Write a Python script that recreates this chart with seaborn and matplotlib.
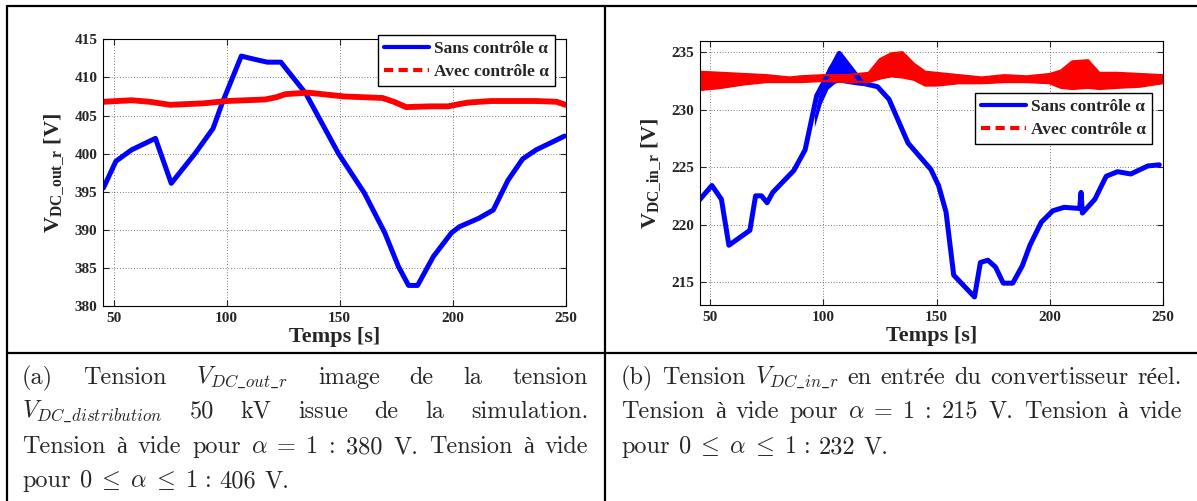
import numpy as np
import pandas as pd
import matplotlib
matplotlib.use("Agg")
import matplotlib.pyplot as plt
import matplotlib.transforms as mtransforms
import seaborn as sns
from matplotlib.lines import Line2D

# (a) V_DC_out_r, simulation
t_a_sans = [45.5, 51, 58, 68.5, 75.5, 86, 94, 98, 106.5, 112, 118, 124, 135, 149.5,
            161, 170, 176, 180.5, 184.5, 191.5, 199.5, 203, 211.5, 218, 224.5, 231,
            237, 244, 249.5]
v_a_sans = [395.5, 399, 400.5, 402, 396.1, 400, 403.3, 406.6, 412.8, 412.4, 412, 412,
            407.9, 400, 394.8, 389.6, 385.2, 382.7, 382.7, 386.5, 389.6, 390.4, 391.5,
            392.6, 396.5, 399.3, 400.5, 401.5, 402.3]
t_a_avec = [45.5, 58, 66, 75, 90, 100, 117, 122, 126, 136, 152, 169, 174, 179.5, 190,
            198, 203, 207, 217, 237, 246, 250]
v_a_avec = [406.8, 407, 406.8, 406.4, 406.6, 406.9, 407.1, 407.4, 407.8, 408, 407.5,
            407.3, 406.8, 406.1, 406.2, 406.2, 406.5, 406.7, 406.9, 406.9, 406.8, 406.4]

# (b) V_DC_in_r, convertisseur reel
t_b_sans = [45, 50.7, 54.9, 58.2, 67.5, 70, 72.6, 75.1, 77.6, 86.9, 91.9, 97, 107,
            117.2, 123.9, 129, 137.4, 147.5, 150.9, 154.2, 157.6, 166.8, 169.4, 172.7,
            176.1, 179.5, 183.7, 187.9, 191.3, 196.3, 201.4, 206.4, 213.3, 213.9, 214.5,
            220, 225, 230, 235.9, 243.4, 248.5]
v_b_sans = [222.1, 223.4, 222.2, 218.2, 219.5, 222.5, 222.5, 221.9, 222.8, 224.7,
            226.5, 231.2, 234.9, 232.3, 232, 230.9, 227.1, 224.8, 223.4, 221.1, 215.6,
            213.7, 216.7, 216.9, 216.3, 214.9, 214.9, 216.4, 218.2, 220.2, 221.2, 221.5,
            221.4, 222.8, 221.0, 222.2, 224.2, 224.6, 224.4, 225.1, 225.2]
# oscillation envelope of the blue curve around its peak
t_b_sans_env = [96, 99, 102, 105, 107, 110, 113, 117]
lo_b_sans_env = [228.5, 230.5, 231.8, 232.3, 232.4, 232.3, 232.2, 232.1]
hi_b_sans_env = [229.5, 232.2, 233.7, 234.5, 234.9, 234.0, 233.2, 232.4]
# red curve is a noisy band: upper and lower edges
t_b_avec = [45, 55, 65, 75, 85, 90, 100, 110, 120, 125, 130, 135, 140, 145, 150, 160,
            170, 180, 190, 200, 205, 210, 217, 222, 230, 240, 250]
hi_b_avec = [233.3, 233.2, 233.1, 233.0, 232.8, 232.9, 233.0, 233.0, 233.2, 234.4,
             234.9, 235.0, 234.0, 233.3, 233.2, 233.0, 232.8, 233.0, 232.9, 233.1,
             233.4, 234.2, 234.3, 233.2, 233.2, 233.1, 233.0]
lo_b_avec = [231.7, 231.9, 232.2, 232.4, 232.4, 232.4, 232.5, 232.4, 232.4, 232.7,
             232.9, 232.8, 232.6, 232.1, 232.1, 232.3, 232.3, 232.4, 232.4, 232.3,
             231.9, 231.8, 231.9, 231.8, 231.9, 232.0, 232.3]

lab_sans = "Sans contrôle α"
lab_avec = "Avec contrôle α"

# captions (one list of words per printed line)
cap_a = [
    ["(a)", "Tension", r"$V_{DC\_out\_r}$", "image", "de", "la", "tension"],
    [r"$V_{DC\_distribution}$", "50", "kV", "issue", "de", "la", "simulation."],
    ["Tension", "à", "vide", "pour", r"$\alpha\;=\;1$", ":", "380", "V.", "Tension", "à", "vide"],
    ["pour", r"$0\;\leq\;\alpha\;\leq\;1$", ":", "406", "V."],
]
cap_b = [
    ["(b)", "Tension", r"$V_{DC\_in\_r}$", "en", "entrée", "du", "convertisseur", "réel."],
    ["Tension", "à", "vide", "pour", r"$\alpha\;=\;1$", ":", "215", "V.", "Tension", "à", "vide"],
    ["pour", r"$0\;\leq\;\alpha\;\leq\;1$", ":", "232", "V."],
]

sns.set_style("ticks")
plt.rcParams["font.family"] = ["Liberation Serif", "DejaVu Serif"]
plt.rcParams["font.weight"] = "bold"
plt.rcParams["axes.labelweight"] = "bold"
plt.rcParams["mathtext.fontset"] = "custom"
plt.rcParams["mathtext.rm"] = "Liberation Serif:bold"
plt.rcParams["mathtext.bf"] = "Liberation Serif:bold"
plt.rcParams["mathtext.it"] = "Liberation Serif:italic:bold"

W, H = 1197, 501
fig = plt.figure(figsize=(W / 100, H / 100), dpi=100)
fig.patch.set_facecolor("white")

ax_a = fig.add_axes([103 / W, 1 - 306 / H, 462.6 / W, 266.7 / H])
ax_b = fig.add_axes([699.7 / W, 1 - 305 / H, 463 / W, 264.3 / H])

BLUE = "#0000ff"
RED = "#ff0000"

# (a)
sns.lineplot(x=t_a_sans, y=v_a_sans, ax=ax_a, color=BLUE, lw=3.6, label=lab_sans)
sns.lineplot(x=t_a_avec, y=v_a_avec, ax=ax_a, color=RED, lw=4.2, label=lab_avec)
ax_a.set_xlim(45.3, 250)
ax_a.set_ylim(380, 415)
ax_a.set_yticks(np.arange(380, 416, 5))
ax_a.set_ylabel(r"V$_{\mathbf{DC\_out\_r}}$ [V]", fontsize=16, labelpad=6)

# (b)
ax_b.fill_between(t_b_sans_env, lo_b_sans_env, hi_b_sans_env, color=BLUE, lw=0)
sns.lineplot(x=t_b_sans, y=v_b_sans, ax=ax_b, color=BLUE, lw=3.6, label=lab_sans)
ax_b.fill_between(t_b_avec, lo_b_avec, hi_b_avec, color=RED, lw=0)
sns.lineplot(x=t_b_avec, y=hi_b_avec, ax=ax_b, color=RED, lw=1.6, label=lab_avec)
sns.lineplot(x=t_b_avec, y=lo_b_avec, ax=ax_b, color=RED, lw=1.6)
ax_b.set_xlim(45.3, 250)
ax_b.set_ylim(213, 236)
ax_b.set_yticks(np.arange(215, 236, 5))
ax_b.set_ylabel(r"V$_{\mathbf{DC\_in\_r}}$ [V]", fontsize=16, labelpad=6)

legend_pos = {ax_a: (378, 35), ax_b: (975, 93)}
for ax in (ax_a, ax_b):
    ax.set_xticks(np.arange(50, 251, 50))
    ax.set_xlabel("Temps [s]", fontsize=16, labelpad=2)
    ax.grid(True, color="k", lw=0.5, ls=(0, (1, 3)))
    ax.tick_params(direction="in", length=4, top=True, right=True,
                   labelsize=11, pad=4, width=0.8)
    for s in ax.spines.values():
        s.set_linewidth(0.8)
        s.set_color("k")
    handles, labels = ax.get_legend_handles_labels()
    px, py = legend_pos[ax]
    leg = ax.legend(handles[:2], labels[:2], loc="upper left",
                    bbox_to_anchor=(px / W, 1 - py / H), bbox_transform=fig.transFigure,
                    borderaxespad=0, fancybox=False, framealpha=1, edgecolor="k",
                    prop=dict(family="Liberation Serif", weight="bold", size=12.5),
                    handlelength=2.6, handletextpad=0.3, borderpad=0.35,
                    labelspacing=0.4)
    leg.get_frame().set_linewidth(1.0)
    for ln in leg.get_lines():
        ln.set_linewidth(3)
    leg.get_lines()[1].set_linestyle((0, (2.2, 1.3)))

# table frame
frame = [((7, 6), (W, 6)), ((7, 6), (7, H)), ((605, 6), (605, H)), ((7, 353), (W, 353))]
for (x0, y0), (x1, y1) in frame:
    fig.add_artist(Line2D([x0 / W, x1 / W], [1 - y0 / H, 1 - y1 / H],
                          transform=fig.transFigure, color="k", lw=1.6))

# captions, justified like LaTeX
CAP_FS = 17.5
renderer = fig.canvas.get_renderer()
ident = mtransforms.IdentityTransform()


def caption_line(tokens, x0, x1, base, justify=True):
    items = [fig.text(0, 0, tok, transform=ident, va="baseline", ha="left",
                      fontsize=CAP_FS, fontweight="normal",
                      family=["cmr10", "Liberation Serif"], math_fontfamily="cm")
             for tok in tokens]
    widths = [t.get_window_extent(renderer).width for t in items]
    gap = 0.333 * CAP_FS * 100 / 72
    if justify and len(items) > 1:
        gap = (x1 - x0 - sum(widths)) / (len(items) - 1)
    x = x0
    for t, w in zip(items, widths):
        t.set_position((x, H - base))
        x += w + gap


baselines = [384, 418, 453, 487]
for i, line in enumerate(cap_a):
    caption_line(line, 22, 588, baselines[i], justify=i < len(cap_a) - 1)
for i, line in enumerate(cap_b):
    caption_line(line, 621, 1182, baselines[i], justify=i < len(cap_b) - 1)

fig.savefig("out.png", dpi=100)
